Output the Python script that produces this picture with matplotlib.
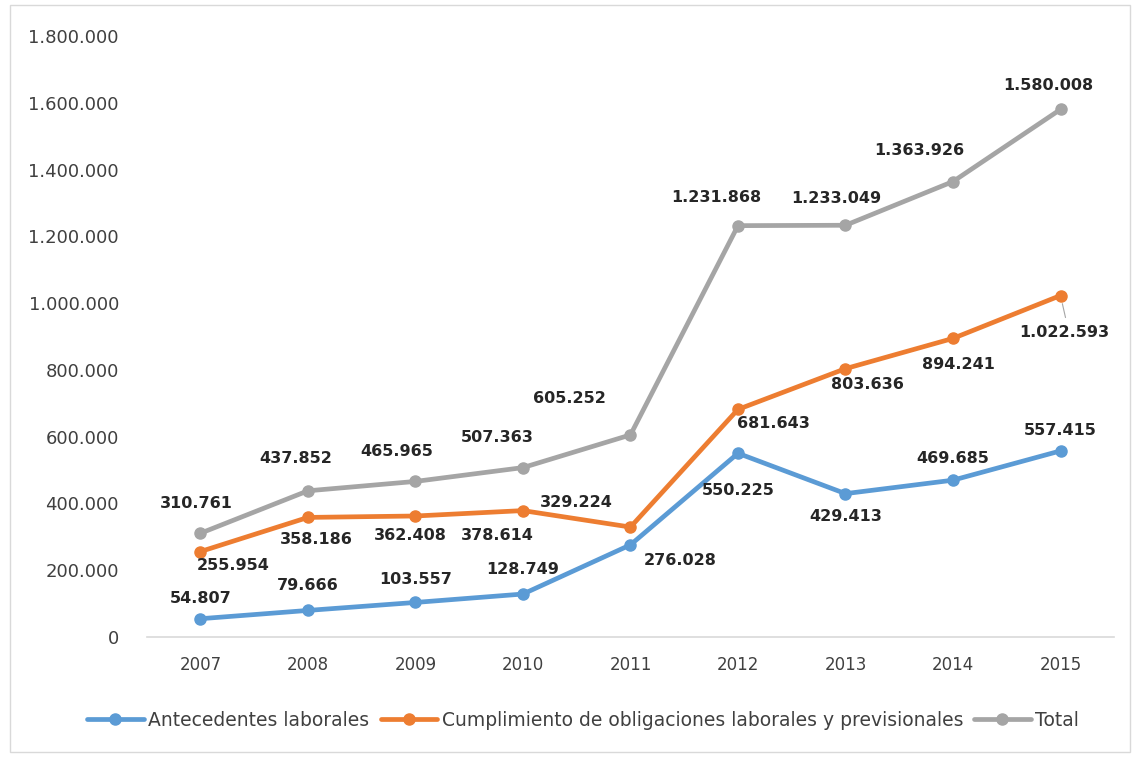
import matplotlib
matplotlib.use("Agg")
import matplotlib.pyplot as plt
from matplotlib.patches import Rectangle

years = ["2007", "2008", "2009", "2010", "2011", "2012", "2013", "2014", "2015"]
antecedentes = [54807, 79666, 103557, 128749, 276028, 550225, 429413, 469685, 557415]
cumplimiento = [255954, 358186, 362408, 378614, 329224, 681643, 803636, 894241, 1022593]
total = [310761, 437852, 465965, 507363, 605252, 1231868, 1233049, 1363926, 1580008]

series_names = ["Antecedentes laborales",
                "Cumplimiento de obligaciones laborales y previsionales",
                "Total"]
colors = ["#5B9BD5", "#ED7D31", "#A5A5A5"]

# label offsets in pixels (dx, dy), dy positive = up
off_ant = [(0, 20), (0, 25), (0, 23), (0, 25), (50, -16), (0, -37), (0, -23), (0, 22), (0, 20)]
off_cum = [(33, -14), (8, -22), (-5, -19), (-26, -25), (-54, 25), (35, -14), (22, -16), (5, -26), (4, -37)]
off_tot = [(-4, 30), (-12, 32), (-19, 30), (-26, 30), (-61, 36), (-22, 28), (-9, 27), (-34, 31), (-12, 24)]


def fmt(v):
    return f"{v:,}".replace(",", ".")


fig = plt.figure(figsize=(11.37, 7.58), dpi=100)
ax = fig.add_axes([0.129, 0.1596, 0.851, 0.793])

x = list(range(len(years)))
all_data = [antecedentes, cumplimiento, total]
all_offs = [off_ant, off_cum, off_tot]
handles = []
for data, offs, name, c in zip(all_data, all_offs, series_names, colors):
    h, = ax.plot(x, data, color=c, lw=3.4, marker="o", markersize=8, label=name,
                 solid_capstyle="round", zorder=3)
    handles.append(h)
    for i, (v, (dx, dy)) in enumerate(zip(data, offs)):
        ax.annotate(fmt(v), (i, v), xytext=(dx, dy), textcoords="offset pixels",
                    ha="center", va="center", fontsize=11.5, fontweight="bold",
                    color="#262626", zorder=4)

# small leader line for the last orange label
ax.annotate("", (8, cumplimiento[8]), xytext=(5, -22), textcoords="offset pixels",
            arrowprops=dict(arrowstyle="-", color="#A5A5A5", lw=0.8, shrinkA=0, shrinkB=6))

ax.set_xlim(-0.5, 8.5)
ax.set_ylim(0, 1800000)
ax.set_xticks(x)
ax.set_xticklabels(years)
ax.set_yticks(range(0, 1800001, 200000))
ax.set_yticklabels([fmt(v) for v in range(0, 1800001, 200000)])
ax.tick_params(axis="both", length=0, colors="#404040")
ax.tick_params(axis="x", pad=14, labelsize=12)
ax.tick_params(axis="y", pad=20, labelsize=13)
for s in ["top", "right", "left"]:
    ax.spines[s].set_visible(False)
ax.spines["bottom"].set_color("#D9D9D9")
ax.spines["bottom"].set_linewidth(1.2)

fig.legend(handles=handles, loc="center", bbox_to_anchor=(0.513, 0.05), ncol=3,
           frameon=False, fontsize=13.5, handlelength=3.0, handletextpad=0.25,
           columnspacing=0.6, labelcolor="#404040")

fig.patches.append(Rectangle((0.009, 0.008), 0.985, 0.985, transform=fig.transFigure,
                             fill=False, edgecolor="#D9D9D9", lw=1))

fig.savefig("out.png", dpi=100)
